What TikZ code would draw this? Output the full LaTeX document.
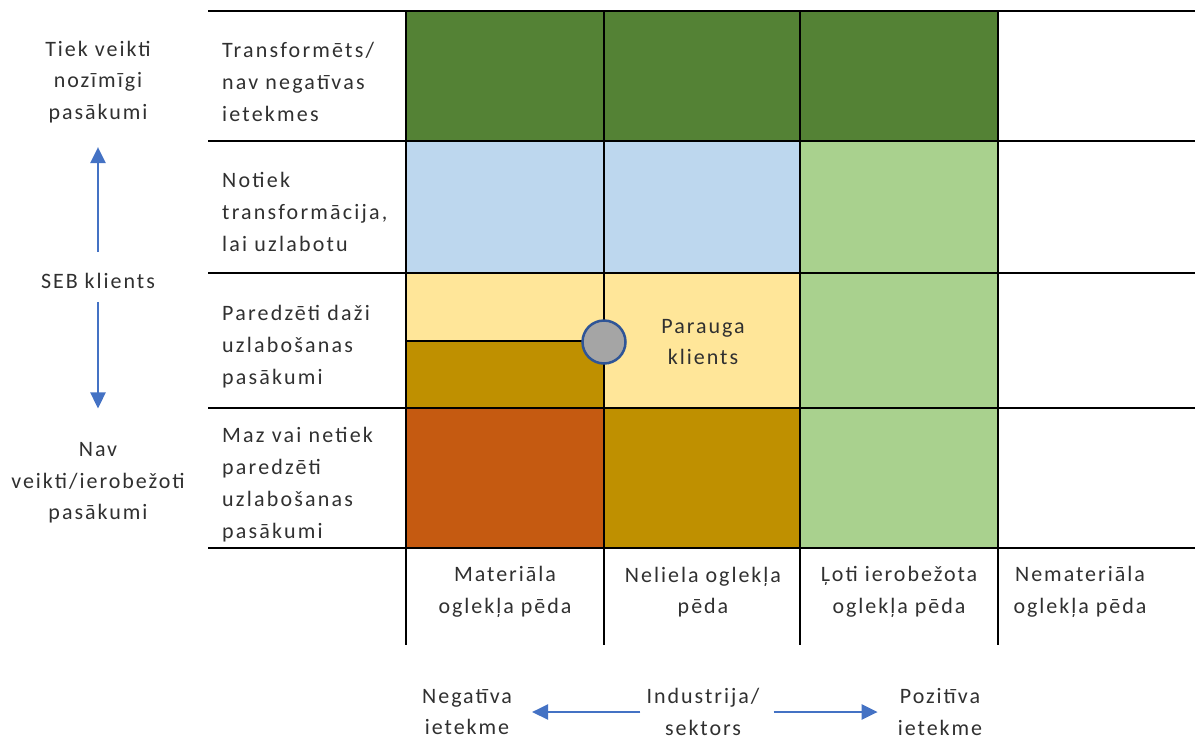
\documentclass[tikz,border=0pt]{standalone}
\usepackage{fontspec}
\setmainfont{Carlito}[LetterSpace=9]
\usetikzlibrary{positioning,arrows.meta}
\definecolor{txtgray}{HTML}{303030}
\definecolor{axblue}{HTML}{4472C4}
\definecolor{dkgreen}{HTML}{548235}
\definecolor{ltgreen}{HTML}{A9D18E}
\definecolor{ltblue}{HTML}{BDD7EE}
\definecolor{ltyellow}{HTML}{FFE699}
\definecolor{dkgold}{HTML}{BF9000}
\definecolor{rust}{HTML}{C55A11}
\definecolor{dotgray}{HTML}{A5A5A5}
\definecolor{dotblue}{HTML}{2F5597}

\begin{document}
\begin{tikzpicture}[x=1pt,y=-1pt,
  every node/.style={inner sep=0pt, align=center, text=txtgray,
    font=\fontsize{22}{31.5}\selectfont},
  rowlbl/.style={align=left, anchor=west,
    font=\fontsize{22}{32}\selectfont\addfontfeature{LetterSpace=10}},
  axarrow/.style={draw=axblue, line width=2.5pt,
    -{Triangle[length=16pt,width=15pt]}},
  gridline/.style={black, line width=1.4pt}]
\useasboundingbox (0,0) rectangle (1195,740);

% cells
\fill [dkgreen] (406,11) rectangle (998,141);
\fill [ltblue] (406,141) rectangle (800,273);
\fill [ltgreen] (800,141) rectangle (998,548);
\fill [ltyellow] (406,273) rectangle (800,408);
\fill [dkgold] (406,341) rectangle (604,408);
\fill [rust] (406,408) rectangle (604,548);
\fill [dkgold] (604,408) rectangle (800,548);

% grid
\foreach \y in {11,141,273,408,548}
  \draw [gridline] (208,\y) -- (1195,\y);
\foreach \x in {406,604,800,998}
  \draw [gridline] (\x,11) -- (\x,645);
\draw [gridline] (406,341) -- (604,341);

% vertical axis
\node (topl) at (98,82) {Tiek veikti\\nozīmīgi\\pasākumi};
\node (seb) at (98,281) {SEB klients};
\node (botl) at (98,483) {Nav\\veikti/ierobežoti\\pasākumi};
\draw [axarrow, shorten <=21pt, shorten >=24pt] (seb) -- (topl);
\draw [axarrow, shorten <=13pt, shorten >=34pt] (seb) -- (botl);

% row labels
\node [rowlbl] (row1) at (222,82) {Transformēts/\\nav negatīvas\\ietekmes};
\node [rowlbl] (row2) at (222,212) {Notiek\\transformācija,\\lai uzlabotu};
\node [rowlbl] (row3) at (222,347) {Paredzēti daži\\uzlabošanas\\pasākumi};
\node [rowlbl] (row4) at (222,485) {Maz vai netiek\\paredzēti\\uzlabošanas\\pasākumi};

% column labels
\node (col1) at (505,592) {Materiāla\\oglekļa pēda};
\node (col2) at (703,592) {Neliela oglekļa\\pēda};
\node (col3) at (899,592) {Ļoti ierobežota\\oglekļa pēda};
\node (col4) at (1080,592) {Nemateriāla\\oglekļa pēda};

% example client
\node [circle, minimum size=43pt, fill=dotgray, draw=dotblue, line width=2.5pt] (dot) at (604,342) {};
\node (sample) at (703,342) {Parauga\\klients};

% horizontal axis
\node (neg) at (467,712) {Negatīva\\ietekme};
\node (ind) at (703,712) {Industrija/\\sektors};
\node (pos) at (940,712) {Pozitīva\\ietekme};
\draw [axarrow, shorten <=6pt, shorten >=20pt] (ind) -- (neg);
\draw [axarrow, shorten <=14pt, shorten >=20pt] (ind) -- (pos);
\end{tikzpicture}
\end{document}
